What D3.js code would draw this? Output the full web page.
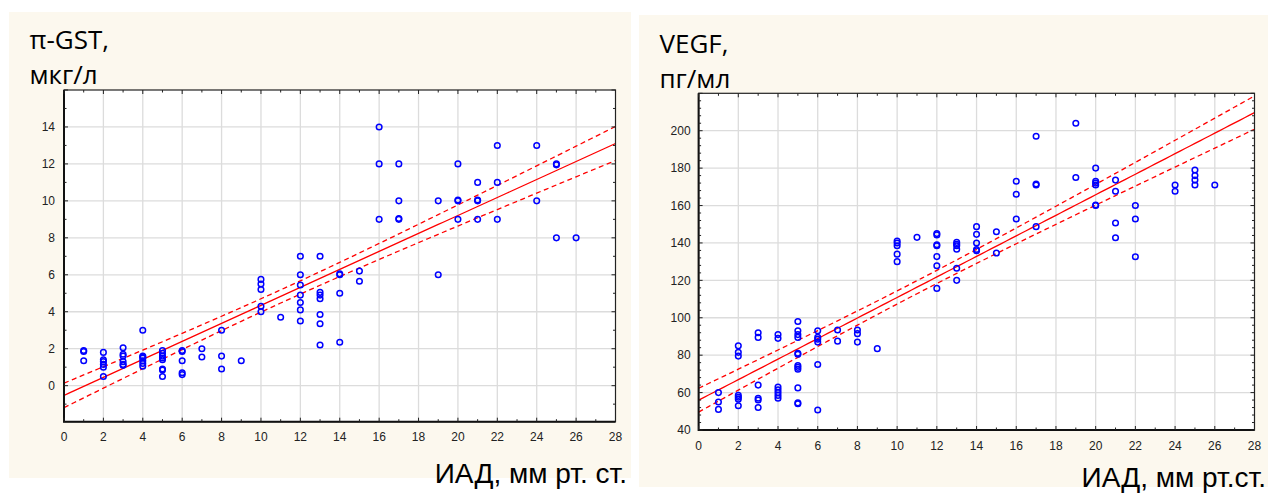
<!DOCTYPE html>
<html><head><meta charset="utf-8">
<script src="https://cdn.jsdelivr.net/npm/d3@7"></script>
<style>
html,body{margin:0;padding:0;background:#fff;}
svg{display:block;}
</style>
</head><body>
<svg id="chart" width="1268" height="494"></svg>
<script>
// ---------- DATA ----------
const xTicks = [0,2,4,6,8,10,12,14,16,18,20,22,24,26,28];
const gstTicks = [0,2,4,6,8,10,12,14];
const vegfTicks = [40,60,80,100,120,140,160,180,200];

const gstTitle = ["π-GST,", "мкг/л"];
const vegfTitle = ["VEGF,", "пг/мл"];
const gstXLabel = "ИАД, мм рт. ст.";
const vegfXLabel = "ИАД, мм рт.ст.";

// π-GST (мкг/л) vs ИАД
const gstX = [1,1,1, 2,2,2,2,2,2, 3,3,3,3,3,3, 4,4,4,4,4,4,4, 5,5,5,5,5,5,5,5,
  6,6,6,6,6, 7,7, 8,8,8, 9, 10,10,10,10,10, 11, 12,12,12,12,12,12,12,
  13,13,13,13,13,13,13, 14,14,14,14, 15,15, 16,16,16, 17,17,17,17, 19,19,
  20,20,20,20, 21,21,21,21, 22,22,22, 24,24, 25,25,25, 26];
const gstY = [1.9,1.85,1.35, 1.8,1.4,1.3,1.15,1.0,0.5, 2.05,1.7,1.6,1.3,1.15,1.1,
  3.0,1.6,1.55,1.5,1.35,1.2,1.05, 1.9,1.75,1.6,1.5,1.4,0.9,0.85,0.5,
  1.9,1.85,1.35,0.7,0.6, 2.0,1.55, 3.0,1.6,0.9, 1.35, 5.75,5.5,5.2,4.3,4.0, 3.7,
  7.0,6.0,5.45,4.9,4.5,4.1,3.5, 7.0,5.05,4.9,4.7,3.85,3.35,2.2, 6.05,6.0,5.0,2.35,
  6.2,5.65, 14,12,9, 12,10,9.05,9.0, 10,6, 12,10.05,10,9, 11,10.05,10,9,
  13,11,9, 13,10, 12,11.95,8, 8];

// VEGF (пг/мл) vs ИАД
const vegfX = [1,1,1, 2,2,2,2,2,2,2, 3,3,3,3,3,3, 4,4,4,4,4,4,4,
  5,5,5,5,5,5,5,5,5,5,5,5, 6,6,6,6,6,6, 7,7, 8,8,8, 9, 10,10,10,10,10, 11,
  12,12,12,12,12,12,12, 13,13,13,13,13,13, 14,14,14,14,14, 15,15, 16,16,16,
  17,17,17,17, 19,19, 20,20,20,20,20,20, 21,21,21,21, 22,22,22, 24,24,
  25,25,25,25, 26];
const vegfY = [60,55,51, 85,81.5,79.5,58.5,57.5,56.5,53, 92,89.5,64,57,56,52,
  91,89,63,61.5,60,58.5,57, 98,93,91,89.5,81,80.5,74.5,73.5,72.5,62.5,54.5,54,
  93,89.5,88.5,87,75,50.7, 93.5,87.5, 93.5,91.5,87, 83.5, 141,140,138.5,134,130, 143,
  145,144.3,139,138.5,132.7,127.8,115.7, 140.3,139.3,138.5,136.6,126.5,120,
  148.7,144.6,140,136.5,135.8, 146,134.6, 173,166,152.8, 197,171.5,171,148.7,
  204,175, 180,173,172,171,160.3,160, 173.6,167.6,150.7,142.8, 160,152.8,132.6,
  171,167.6, 179,176,173.6,171, 171];

// ---------- DRAW ----------
const svg = d3.select("#chart");
const FONT_T = "'Liberation Sans', Arial, sans-serif";
const FONT_H = "'Open Sans', 'Noto Sans', sans-serif";

function regression(xs, ys){
  const n = xs.length;
  const mx = d3.mean(xs), my = d3.mean(ys);
  let sxx=0, sxy=0;
  for(let i=0;i<n;i++){ sxx += (xs[i]-mx)**2; sxy += (xs[i]-mx)*(ys[i]-my); }
  const b = sxy/sxx, a = my - b*mx;
  let sse=0;
  for(let i=0;i<n;i++){ sse += (ys[i]-(a+b*xs[i]))**2; }
  const s = Math.sqrt(sse/(n-2));
  const t = 1.986;
  return {a,b,band:(x)=> t*s*Math.sqrt(1/n + (x-mx)**2/sxx)};
}

function panel(cfg){
  const g = svg.append("g");
  g.append("rect").attr("x",cfg.bg[0]).attr("y",cfg.bg[1]).attr("width",cfg.bg[2]).attr("height",cfg.bg[3])
    .attr("fill","#fcf8ee");
  const L=cfg.plot[0], T=cfg.plot[1], R=cfg.plot[2], B=cfg.plot[3];
  g.append("rect").attr("x",L).attr("y",T).attr("width",R-L).attr("height",B-T).attr("fill","#fff");
  const x = d3.scaleLinear().domain([0,28]).range([L,R]);
  const y = d3.scaleLinear().domain(cfg.yDomain).range([B,T]);

  // grid
  g.append("g").selectAll("line").data(xTicks.slice(1,-1)).join("line")
    .attr("x1",d=>x(d)).attr("x2",d=>x(d)).attr("y1",T).attr("y2",B)
    .attr("stroke","#dcdcdc").attr("stroke-width",1.3);
  g.append("g").selectAll("line").data(cfg.yTicks.filter(v=>y(v)>T+1 && y(v)<B-1)).join("line")
    .attr("y1",d=>y(d)).attr("y2",d=>y(d)).attr("x1",L).attr("x2",R)
    .attr("stroke","#dcdcdc").attr("stroke-width",1.3);

  // regression and confidence band
  const reg = regression(cfg.xs, cfg.ys);
  const xs = d3.range(0, 28.001, 0.25);
  const line = d3.line().x(d=>x(d[0])).y(d=>y(d[1]));
  const clip = "clip"+cfg.id;
  g.append("clipPath").attr("id",clip).append("rect").attr("x",L).attr("y",T).attr("width",R-L).attr("height",B-T);
  const lg = g.append("g").attr("clip-path",`url(#${clip})`);
  lg.append("path").attr("d", line(xs.map(v=>[v, reg.a+reg.b*v])))
    .attr("fill","none").attr("stroke","#ff0000").attr("stroke-width",1.3);
  [1,-1].forEach(sg=>{
    lg.append("path").attr("d", line(xs.map(v=>[v, reg.a+reg.b*v+sg*reg.band(v)])))
      .attr("fill","none").attr("stroke","#ff0000").attr("stroke-width",1.3).attr("stroke-dasharray","5,3.5");
  });

  // points
  g.append("g").selectAll("circle").data(cfg.xs.map((v,i)=>[v,cfg.ys[i]])).join("circle")
    .attr("cx",d=>x(d[0])).attr("cy",d=>y(d[1])).attr("r",2.8)
    .attr("fill","none").attr("stroke","#0000ff").attr("stroke-width",1.5);

  // frame
  g.append("rect").attr("x",L).attr("y",T).attr("width",R-L).attr("height",B-T)
    .attr("fill","none").attr("stroke","#222").attr("stroke-width",1.2);
  g.append("path").attr("d",`M${L},${T}V${B}H${R}`).attr("fill","none").attr("stroke","#111").attr("stroke-width",2);

  // inner ticks
  const xMinor = d3.range(1,28,2);
  const tk = g.append("g").attr("stroke","#222").attr("stroke-width",1);
  xTicks.forEach(v=>{
    tk.append("line").attr("x1",x(v)).attr("x2",x(v)).attr("y1",B).attr("y2",B-4);
    tk.append("line").attr("x1",x(v)).attr("x2",x(v)).attr("y1",T).attr("y2",T+4);
  });
  xMinor.forEach(v=>{
    tk.append("line").attr("x1",x(v)).attr("x2",x(v)).attr("y1",B).attr("y2",B-2.5);
    tk.append("line").attr("x1",x(v)).attr("x2",x(v)).attr("y1",T).attr("y2",T+2.5);
  });
  const yStep = cfg.yTicks[1]-cfg.yTicks[0];
  const yAll = d3.range(cfg.yDomain[0] - (cfg.yDomain[0]%cfg.yMinor), cfg.yDomain[1]+0.001, cfg.yMinor)
     .filter(v=>v>=cfg.yDomain[0]-1e-9);
  yAll.forEach(v=>{
    const major = Math.abs(Math.round(v/yStep)*yStep - v) < 1e-6;
    const len = major?4:2.5;
    tk.append("line").attr("y1",y(v)).attr("y2",y(v)).attr("x1",L).attr("x2",L+len);
    tk.append("line").attr("y1",y(v)).attr("y2",y(v)).attr("x1",R).attr("x2",R-len);
  });

  // tick labels
  g.append("g").selectAll("text").data(xTicks).join("text")
    .attr("x",d=>x(d)).attr("y",B+19.5).attr("text-anchor","middle")
    .attr("font-family",FONT_T).attr("font-size",12).attr("fill","#222").text(d=>d);
  g.append("g").selectAll("text").data(cfg.yTicks).join("text")
    .attr("x",L-cfg.yLabelGap).attr("y",d=>y(d)).attr("dy","0.36em").attr("text-anchor","end")
    .attr("font-family",FONT_T).attr("font-size",12).attr("fill","#222").text(d=>d);

  // titles
  cfg.title.forEach((t,i)=>{
    g.append("text").attr("x",cfg.titlePos[0]).attr("y",cfg.titlePos[1+i])
      .attr("font-family",FONT_H).attr("font-size",26).attr("fill","#000").text(t);
  });
  g.append("text").attr("x",cfg.xLabelPos[0]).attr("y",cfg.xLabelPos[1]).attr("text-anchor","end")
    .attr("font-family",FONT_T).attr("font-size",28).attr("fill","#000").text(cfg.xLabel);
}

panel({id:"a", bg:[9,12,622,466], plot:[64,90,615.5,421.7], yDomain:[-1.95,16], yTicks:gstTicks, yMinor:1,
  xs:gstX, ys:gstY, yLabelGap:9, title:gstTitle, titlePos:[29.5,49,84], xLabel:gstXLabel, xLabelPos:[627,482.5]});
panel({id:"b", bg:[639,15,629,472], plot:[698.6,93.3,1254.5,430], yDomain:[40,220], yTicks:vegfTicks, yMinor:4,
  xs:vegfX, ys:vegfY, yLabelGap:8, title:vegfTitle, titlePos:[659.5,52.5,88], xLabel:vegfXLabel, xLabelPos:[1266,487]});
</script>
</body></html>
